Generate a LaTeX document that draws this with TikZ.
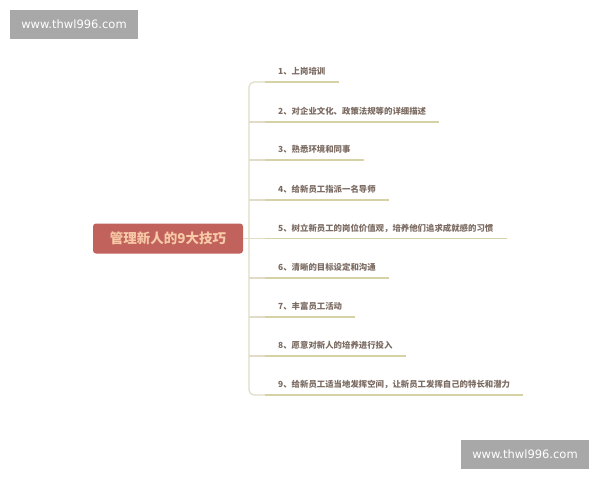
\documentclass[tikz,border=0pt]{standalone}
\usepackage{fontspec}
\setmainfont{Noto Sans CJK SC}
\newfontfamily\wmfont{DejaVu Sans}
\definecolor{rootfill}{HTML}{C1625D}
\definecolor{roottext}{HTML}{F7C9A6}
\definecolor{itemtext}{HTML}{7B6B62}
\definecolor{underl}{HTML}{D6D2A6}
\definecolor{trunkc}{HTML}{E0DCC6}
\definecolor{wmgray}{HTML}{A8A8A8}
\tikzset{
  rootbox/.style={fill=rootfill, rounded corners=3pt, minimum width=150pt, minimum height=30pt, inner sep=0pt, text=roottext, font=\fontsize{13.5}{15}\selectfont\bfseries},
  itembox/.style={anchor=south west, inner xsep=13pt, inner ysep=5.5pt, text height=7pt, text depth=1.5pt, text=itemtext, font=\fontsize{8.4}{10}\selectfont\bfseries},
  uline/.style={draw=underl, line width=1.3pt},
  trunkline/.style={draw=trunkc, line width=1.2pt},
  wmbox/.style={fill=wmgray, text=white, minimum width=128pt, minimum height=29pt, inner sep=0pt, font=\wmfont\fontsize{11.5}{13}\selectfont}
}
\begin{document}
\begin{tikzpicture}[x=1pt,y=-1pt]
\useasboundingbox (0,0) rectangle (600,480);
\fill[white] (0,0) rectangle (600,480);
% watermarks
\node[wmbox] (wm1) at (74,24.5) {www.thwl996.com};
\node[wmbox] (wm2) at (525,454.5) {www.thwl996.com};
% root
\node[rootbox] (root) at (168,238.5) {管理新人的9大技巧};
% items
\node[itembox] (i1) at (265,82) {1、上岗培训};
\node[itembox] (i2) at (265,122) {2、对企业文化、政策法规等的详细描述};
\node[itembox] (i3) at (265,160) {3、熟悉环境和同事};
\node[itembox] (i4) at (265,200) {4、给新员工指派一名导师};
\node[itembox] (i5) at (265,238.5) {5、树立新员工的岗位价值观，培养他们追求成就感的习惯};
\node[itembox] (i6) at (265,278) {6、清晰的目标设定和沟通};
\node[itembox] (i7) at (265,317) {7、丰富员工活动};
\node[itembox] (i8) at (265,356) {8、愿意对新人的培养进行投入};
\node[itembox] (i9) at (265,395) {9、给新员工适当地发挥空间，让新员工发挥自己的特长和潜力};
% trunk coordinates
\foreach \k/\y in {2/122,3/160,4/200,5/238.5,6/278,7/317,8/356}{
  \coordinate (t\k) at (249,\y);
}
\coordinate (ttop) at (249,82);
\coordinate (tbot) at (249,395);
% trunk
\draw[trunkline, rounded corners=5pt] (i1.south west) -- (ttop) -- (tbot) -- (i9.south west);
\draw[trunkline] (root.east) -- (t5);
\foreach \k in {2,...,8}{
  \draw[trunkline] (t\k) -- (i\k.south west);
}
% underlines
\foreach \k in {1,...,9}{
  \draw[uline] (i\k.south west) -- (i\k.south east);
}
\end{tikzpicture}
\end{document}
